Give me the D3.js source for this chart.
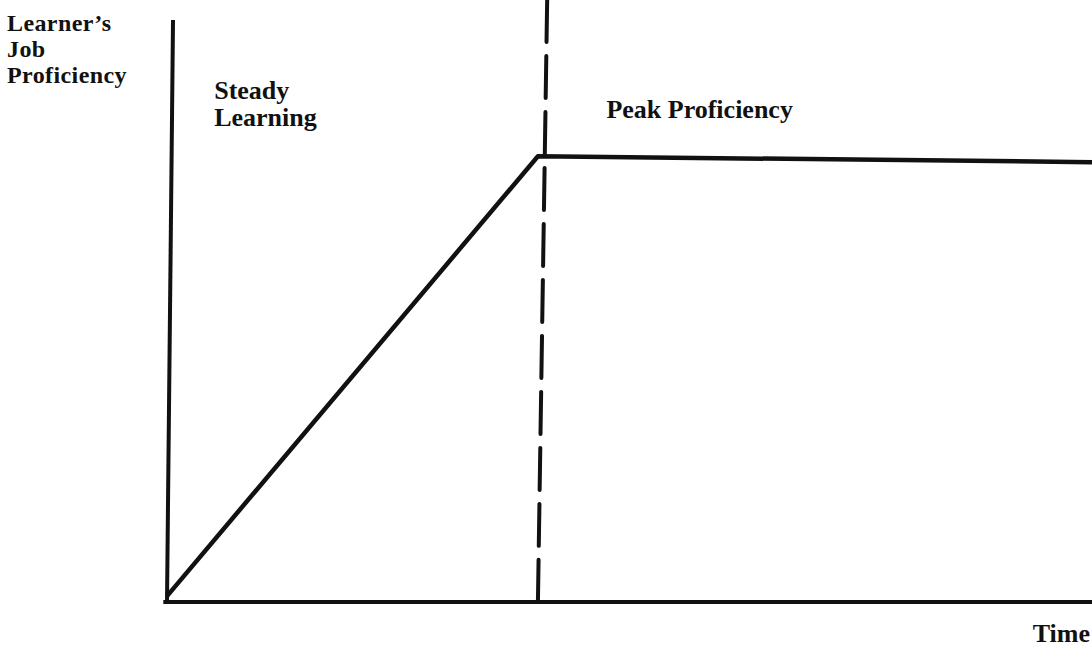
<!DOCTYPE html>
<html>
<head>
    <script src="https://d3js.org/d3.v7.min.js"></script>
    <style>
        body { margin: 0; background: #fff; }
        text { font-family: "Liberation Serif", "DejaVu Serif", serif; font-weight: bold; font-size: 26px; fill: #111; }
        .ytitle { font-size: 24px; letter-spacing: 0.4px; }
    </style>
</head>
<body>
    <svg width="1092" height="649"></svg>

    <script>
        const svg = d3.select("svg"),
              width = 1092, height = 649,
              margin = { top: 0, right: 0, bottom: 47, left: 167 };

        // Learning curve (time %, proficiency %)
        const curve = [[0, 1], [40.1, 75.3], [100, 74.3]];
        // Phase boundary, drawn top -> bottom (slightly skewed like the scan)
        const boundary = [[41.1, 101.7], [40.1, 0]];
        // Axis lines
        const yAxisLine = [[0, 0], [0.65, 98.3]];
        const xAxisLine = [[-0.4, 0], [100, 0]];

        const phaseLabels = [
            { lines: ["Steady", "Learning"], x: 5.1, y: 85 },
            { lines: ["Peak Proficiency"], x: 47.5, y: 81.7 }
        ];
        const yTitle = ["Learner\u2019s", "Job", "Proficiency"];
        const xTitle = "Time";

        const x = d3.scaleLinear().domain([0, 100]).range([margin.left, width]);
        const y = d3.scaleLinear().domain([0, 100]).range([height - margin.bottom, height - margin.bottom - 592]);

        const line = d3.line().x(d => x(d[0])).y(d => y(d[1]));

        // Axes
        svg.append("path").attr("d", line(yAxisLine))
            .attr("stroke", "#111").attr("stroke-width", 4).attr("fill", "none");
        svg.append("path").attr("d", line(xAxisLine))
            .attr("stroke", "#111").attr("stroke-width", 4).attr("fill", "none");

        // Dashed boundary
        svg.append("path").attr("d", line(boundary))
            .attr("stroke", "#111").attr("stroke-width", 4).attr("fill", "none")
            .attr("stroke-dasharray", "42 14")
            .attr("stroke-linecap", "round");

        // Curve
        svg.append("path").attr("d", line(curve))
            .attr("stroke", "#111").attr("stroke-width", 4.5).attr("fill", "none")
            .attr("stroke-linejoin", "round");

        // Phase labels
        phaseLabels.forEach(p => {
            const t = svg.append("text").attr("x", x(p.x)).attr("y", y(p.y));
            p.lines.forEach((l, i) => t.append("tspan").attr("x", x(p.x)).attr("dy", i ? 27 : 0).text(l));
        });

        // Y title, one text per line
        svg.selectAll(".ytitle")
            .data(yTitle)
            .enter().append("text")
            .attr("class", "ytitle")
            .attr("x", 7)
            .attr("y", (d, i) => 31 + i * 26)
            .text(d => d);

        // X title
        svg.append("text").attr("x", width - 2).attr("y", 642)
            .attr("text-anchor", "end").text(xTitle);
    </script>
</body>
</html>
